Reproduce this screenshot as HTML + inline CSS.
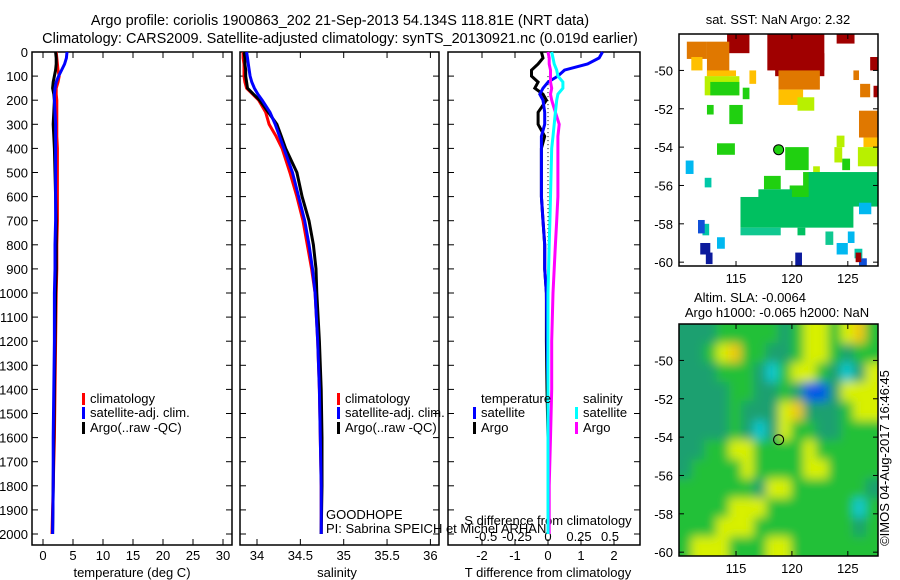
<!DOCTYPE html>
<html><head><meta charset="utf-8"><style>
body{margin:0;background:#fff;}
svg{display:block;font-family:"Liberation Sans",sans-serif;font-size:13px;}
</style></head><body>
<svg id="c" width="900" height="580" xmlns="http://www.w3.org/2000/svg">
<defs>
<filter id="blur" x="-10%" y="-10%" width="120%" height="120%"><feGaussianBlur stdDeviation="5"/></filter>
<clipPath id="clipTop"><rect x="679" y="34" width="199" height="232"/></clipPath>
<clipPath id="clipBot"><rect x="679" y="324" width="199" height="232"/></clipPath>
</defs>
<text x="340" y="25" text-anchor="middle" style="font-size:14.5px">Argo profile: coriolis 1900863_202 21-Sep-2013 54.134S 118.81E (NRT data)</text>
<text x="340" y="43" text-anchor="middle" style="font-size:14.5px">Climatology: CARS2009. Satellite-adjusted climatology: synTS_20130921.nc (0.019d earlier)</text>
<g id="g"></g>
</svg>
<script>
const depths=[0,25,50,75,100,125,150,175,200,250,300,350,400,500,600,700,800,900,1000,1200,1400,1600,1800,2000];
const tempClim=[2.2,2.3,2.4,2.5,2.7,2.5,2.2,2.2,2.3,2.3,2.3,2.3,2.4,2.4,2.4,2.4,2.3,2.3,2.2,2.1,2.0,1.9,1.7,1.5];
const tempArgo=[2.1,2.2,2.2,2.1,1.9,1.7,1.6,1.8,1.9,1.8,1.7,1.8,1.9,2.0,2.1,2.2,2.2,2.2,2.1,2.0,1.9,1.8,1.7,1.6];
const tempSat=[4.0,3.9,3.6,3.1,2.6,2.2,2.0,1.9,1.9,2.0,2.1,2.1,2.1,2.1,2.1,2.1,2.0,2.0,1.9,1.9,1.8,1.7,1.7,1.6];
const salClim=[33.84,33.84,33.85,33.85,33.85,33.86,33.88,33.95,34.02,34.10,34.14,34.22,34.29,34.38,34.46,34.53,34.58,34.63,34.67,34.70,34.72,34.73,34.74,34.74];
const salArgo=[33.85,33.86,33.86,33.87,33.87,33.88,33.89,33.96,34.03,34.13,34.23,34.28,34.33,34.46,34.52,34.60,34.65,34.68,34.69,34.72,34.74,34.75,34.75,34.74];
const salSat=[33.88,33.89,33.90,33.91,33.92,33.94,33.97,34.01,34.06,34.15,34.21,34.26,34.31,34.41,34.48,34.55,34.60,34.64,34.67,34.70,34.72,34.73,34.74,34.74];
const tdSat=[1.65,1.55,1.2,0.5,0.3,0,-0.15,-0.25,-0.15,-0.1,-0.1,-0.2,-0.2,-0.2,-0.2,-0.15,-0.1,-0.1,-0.05,-0.03,0,0,0,0];
const tdArgo=[-0.2,-0.15,-0.3,-0.5,-0.5,-0.3,-0.4,-0.15,-0.05,-0.3,-0.3,-0.1,-0.2,-0.2,-0.2,-0.15,-0.1,-0.1,-0.05,-0.05,-0.03,0,0,0];
const sdSat=[0.03,0.04,0.05,0.07,0.08,0.12,0.12,0.08,0.07,0.06,0.05,0.04,0.03,0.025,0.02,0.015,0.01,0.005,0,0,0,0,0,0];
const sdArgo=[0,0.01,0.01,0.02,0.02,0.02,0.03,0.02,0.03,0.06,0.09,0.08,0.08,0.08,0.08,0.07,0.06,0.05,0.04,0.03,0.03,0.02,0.01,0.01];
const depthTicks=[0,100,200,300,400,500,600,700,800,900,1000,1100,1200,1300,1400,1500,1600,1700,1800,1900,2000];
const tempTicks=[0,5,10,15,20,25,30];
const salTicks=[34,34.5,35,35.5,36];
const tdTicks=[-2,-1,0,1,2];
const sdTicks=[-0.5,-0.25,0,0.25,0.5];
const sdTickLabels=["-0.5","-0.25","0","0.25","0.5"];
const latTicks=[-50,-52,-54,-56,-58,-60];
const lonTicks=[115,120,125];
const sstPatches=[
[117.8,122.9,-48.1,-50.0,9],[118.5,122.9,-49.1,-50.3,9],[114.2,116.2,-48.1,-49.1,9],[124.0,125.6,-48.1,-48.6,9],[127.0,127.7,-49.3,-50.0,9],[127.3,127.7,-50.8,-51.4,9],
[118.8,122.5,-50.0,-51.0,6.5],[110.6,112.4,-48.5,-49.4,6.5],[112.4,114.4,-48.5,-50.3,6.5],[126.0,127.7,-52.1,-53.5,6.5],[125.5,126.0,-50.0,-50.5,6.5],[126.1,127.0,-50.7,-51.4,6.5],
[118.8,121.0,-51.0,-51.8,5.5],[111.0,112.0,-49.3,-50.0,5.5],[112.4,115.0,-50.0,-50.3,5.5],[126.4,127.7,-53.5,-54.0,5.5],[116.2,116.8,-50.0,-50.7,5.5],
[112.2,115.3,-50.3,-51.3,4.5],[120.5,122.0,-51.4,-52.1,4.5],[125.9,127.7,-54.0,-55.0,4.5],[124.0,124.7,-53.4,-54.0,4.5],[123.8,124.5,-54.0,-54.8,4.5],[121.9,122.5,-55.0,-55.8,4.5],
[112.7,115.3,-50.6,-51.3,3.5],[114.4,115.6,-51.8,-52.8,3.5],[112.4,113.0,-51.8,-52.3,3.5],[115.6,116.2,-50.9,-51.5,3.5],[113.3,114.9,-53.8,-54.4,3.5],[119.4,121.5,-54.0,-55.2,3.5],[117.5,119.0,-55.5,-56.2,3.5],[121.0,123.4,-55.3,-56.2,3.5],[124.5,125.2,-54.6,-55.2,3.5],[119.8,122.0,-56.0,-57.0,3.5],
[115.4,125.5,-56.6,-58.2,2.5],[115.4,119.0,-58.2,-58.6,2.3],[120.5,121.2,-58.2,-58.6,2.5],[121.5,127.7,-55.3,-57.1,2.5],[117.0,120.0,-56.2,-56.7,2.5],[123.0,123.7,-58.4,-59.1,2.3],
[112.2,112.8,-55.6,-56.1,2.0],[112.0,112.6,-58.0,-58.6,2.0],
[110.5,111.2,-54.7,-55.4,1.2],[126.0,127.1,-56.9,-57.5,1.2],[113.3,114.0,-58.7,-59.3,1.2],[125.0,125.6,-58.4,-59.0,1.2],[124.0,125.0,-59.0,-59.6,1.2],[125.6,126.3,-59.3,-59.8,1.8],
[111.6,112.2,-57.8,-58.5,0.3],[126.0,126.7,-59.8,-60.2,0.3],
[111.8,112.7,-59.0,-59.6,-0.5],[112.3,112.9,-59.5,-60.1,-0.5],[120.3,120.9,-59.5,-60.2,-0.5],
[125.7,126.2,-59.5,-60.0,9]];
const slaGrid=[
[-1,-1,-1,0,0,0,0,0,-1,0,1,1,0,1,2,0],
[-1,-1,0,1,2,0,0,-1,-1,0,1,1,0,-1,0,0],
[-1,-1,-1,0,0,0,-1,-2,0,1,1,0,-1,-2,-1,1],
[-1,-1,-1,-1,0,0,-1,-1,0,-1,-3,-3,-1,1,1,1],
[-1,-1,-1,-1,0,-1,-1,-1,1,2,-1,-1,-1,0,1,1],
[-1,-1,-1,-1,0,-1,-2,-1,1,0,0,-1,-1,0,0,0],
[-1,-1,0,0,1,1,0,0,0,0,1,0,0,0,0,0],
[-1,0,0,0,0,1,0,0,0,0,1,1,0,0,0,0],
[0,0,0,0,0,0,-1,1,1,0,0,0,0,0,0,-1],
[0,0,0,0,1,1,1,0,0,0,0,0,0,0,-2,0],
[0,0,0,1,1,1,0,0,0,0,0,0,0,0,-1,0],
[0,1,1,1,0,0,0,1,1,0,0,0,0,0,0,0]];
const argoLon=118.81, argoLat=-54.134;

const NS="http://www.w3.org/2000/svg";
const G=document.getElementById('g');
function el(t,a,p){const e=document.createElementNS(NS,t);for(const k in a)e.setAttribute(k,a[k]);(p||G).appendChild(e);return e;}
function txt(x,y,s,anchor,p){const e=el('text',{x:x,y:y,'text-anchor':anchor||'start'},p);e.textContent=s;return e;}
const Y0=52, yD=d=>Y0+d*0.241, YB=545;
const xT=v=>43+6*v, xS=v=>257+(v-34)*86.7, xTd=v=>548+v*33, xSd=v=>548+v*124;

function frame(x0,x1,name,yt,showLabels){
  const f=el('rect',{x:x0,y:Y0,width:x1-x0,height:YB-Y0,fill:'none',stroke:'#000','stroke-width':1.5});
  
  
  depthTicks.forEach(d=>{
    el('line',{x1:x0,x2:x0+6,y1:yD(d),y2:yD(d),stroke:'#000'});
    el('line',{x1:x1-6,x2:x1,y1:yD(d),y2:yD(d),stroke:'#000'});
    if(showLabels){const t=txt(28,yD(d)+5,String(d),'end');
      
      }
  });
}
function xticks(ticks,fx,labels,name){
  ticks.forEach((v,i)=>{
    el('line',{x1:fx(v),x2:fx(v),y1:Y0,y2:Y0+6,stroke:'#000'});
    el('line',{x1:fx(v),x2:fx(v),y1:YB-6,y2:YB,stroke:'#000'});
    const t=txt(fx(v),560,labels?labels[i]:String(v),'middle');
    
    
  });
}
function line(vals,fx,color,name,dash){
  const pts=vals.map((v,i)=>fx(v).toFixed(1)+','+yD(depths[i]).toFixed(1)).join(' ');
  const p=el('polyline',{points:pts,fill:'none',stroke:color,'stroke-width':dash?1:3,'stroke-dasharray':dash||'none','stroke-linejoin':'miter'});
  
  
}
function legendItem(x,y,color,label,name){
  const r=el('rect',{x:x,y:y-10,width:3,height:12,fill:color});
  
  
  const t=txt(x+8,y,label);
  
  
}
frame(32,232,'temperature-panel',true,true);
xticks(tempTicks,xT,null,'temperature-x');
line(tempClim,xT,'#f00','temp-climatology-line');
line(tempArgo,xT,'#000','temp-argo-line');
line(tempSat,xT,'#00f','temp-satellite-line');
let t=txt(132,577,'temperature (deg C)','middle');


legendItem(82,403,'#f00','climatology','temp-legend-climatology');
legendItem(82,417,'#00f','satellite-adj. clim.','temp-legend-satellite');
legendItem(82,432,'#000','Argo(..raw -QC)','temp-legend-argo');
frame(240,439,'salinity-panel',true,false);
xticks(salTicks,xS,null,'salinity-x');
line(salClim,xS,'#f00','sal-climatology-line');
line(salArgo,xS,'#000','sal-argo-line');
line(salSat,xS,'#00f','sal-satellite-line');
t=txt(337,577,'salinity','middle');


legendItem(337,403,'#f00','climatology','sal-legend-climatology');
legendItem(337,417,'#00f','satellite-adj. clim.','sal-legend-satellite');
legendItem(337,432,'#000','Argo(..raw -QC)','sal-legend-argo');
t=txt(326,519,'GOODHOPE');


t=txt(326,533,'PI: Sabrina SPEICH et Michel ARHAN');


frame(448,640,'difference-panel',true,false);
xticks(tdTicks,xTd,null,'tdiff-x');
sdTicks.forEach((v,i)=>{const s=txt(xSd(v),541,sdTickLabels[i],'middle');
  
  });
t=txt(548,525,'S difference from climatology','middle');


t=txt(548,577,'T difference from climatology','middle');


el('line',{x1:548,x2:548,y1:yD(100),y2:yD(1000),stroke:'#000','stroke-dasharray':'1,3'});
line(tdArgo,xTd,'#000','tdiff-argo-line');
line(tdSat,xTd,'#00f','tdiff-satellite-line');
line(sdArgo,xSd,'#f0f','sdiff-argo-line');
line(sdSat,xSd,'#0ff','sdiff-satellite-line');
t=txt(481,403,'temperature');


t=txt(583,403,'salinity');


legendItem(473,417,'#00f','satellite','diff-legend-temp-satellite');
legendItem(473,432,'#000','Argo','diff-legend-temp-argo');
legendItem(575,417,'#0ff','satellite','diff-legend-sal-satellite');
legendItem(575,432,'#f0f','Argo','diff-legend-sal-argo');

const MX0=679,MX1=878,LON0=109.9,LON1=127.7,LAT0=-48.1,LAT1=-60.2;
const mx=lon=>MX0+(lon-LON0)*(MX1-MX0)/(LON1-LON0);
function mapAxes(top,name){
  const my=lat=>top+(LAT0-lat)*232/(LAT0-LAT1);
  const f=el('rect',{x:MX0,y:top,width:MX1-MX0,height:232,fill:'none',stroke:'#000','stroke-width':1.5});
  
  
  latTicks.forEach(v=>{el('line',{x1:MX0,x2:MX0+5,y1:my(v),y2:my(v),stroke:'#000'});
    el('line',{x1:MX1-5,x2:MX1,y1:my(v),y2:my(v),stroke:'#000'});
    const s=txt(673,my(v)+5,String(v),'end');
    
    });
  lonTicks.forEach(v=>{el('line',{x1:mx(v),x2:mx(v),y1:top,y2:top+5,stroke:'#000'});
    el('line',{x1:mx(v),x2:mx(v),y1:top+227,y2:top+232,stroke:'#000'});
    const s=txt(mx(v),top+249,String(v),'middle');
    
    });
  return my;
}
function sstColor(v){
  const stops=[[-0.5,'#0c1a9c'],[0.3,'#1050d8'],[1.2,'#00b8f0'],[2.0,'#00c8a8'],[2.3,'#10c890'],[2.5,'#00c060'],[3.5,'#20d010'],[4.5,'#b8f000'],[5.5,'#ffc000'],[6.5,'#e07800'],[9,'#a00000']];
  let best=stops[0];stops.forEach(s=>{if(Math.abs(s[0]-v)<Math.abs(best[0]-v))best=s;});return best[1];
}
const myT=lat=>34+(LAT0-lat)*232/(LAT0-LAT1);
const gTop=el('g',{'clip-path':'url(#clipTop)'});


sstPatches.forEach(p=>{
  const r=el('rect',{x:mx(p[0]),y:myT(p[2]),width:mx(p[1])-mx(p[0]),height:myT(p[3])-myT(p[2]),fill:sstColor(p[4])},gTop);
  
  
});
mapAxes(34,'sst-map');
const c1=el('circle',{cx:mx(argoLon),cy:myT(argoLat),r:5,fill:'#20d010',stroke:'#000'});


t=txt(778,24,'sat. SST: NaN Argo: 2.32','middle');



const slaColors={'-3':'#0058e8','-2':'#10c8d0','-1':'#1aa070','0':'#20c038','1':'#d8f000','2':'#f0c810'};
const gBot=el('g',{'clip-path':'url(#clipBot)'});


el('rect',{x:MX0,y:324,width:199,height:232,fill:'#20b848'},gBot);
const gB=el('g',{filter:'url(#blur)'},gBot);
const rows=slaGrid.length, cols=slaGrid[0].length, cw=199/cols, ch=232/rows;
slaGrid.forEach((row,i)=>row.forEach((v,j)=>{
  const r=el('rect',{x:MX0+j*cw-(j==0?10:0),y:324+i*ch-(i==0?10:0),width:cw+1+(j==0||j==cols-1?10:0),height:ch+1+(i==0||i==rows-1?10:0),fill:slaColors[String(v)]},gB);
  
  
}));
const myB=mapAxes(324,'sla-map');
const c2=el('circle',{cx:mx(argoLon),cy:myB(argoLat),r:5,fill:'none',stroke:'#000'});


t=txt(750,302,'Altim. SLA: -0.0064','middle');


t=txt(777,317,'Argo h1000: -0.065 h2000: NaN','middle');


t=txt(0,0,'©IMOS 04-Aug-2017 16:46:45','middle');
t.setAttribute('transform','translate(889,458) rotate(-90)');


</script>
</body></html>
